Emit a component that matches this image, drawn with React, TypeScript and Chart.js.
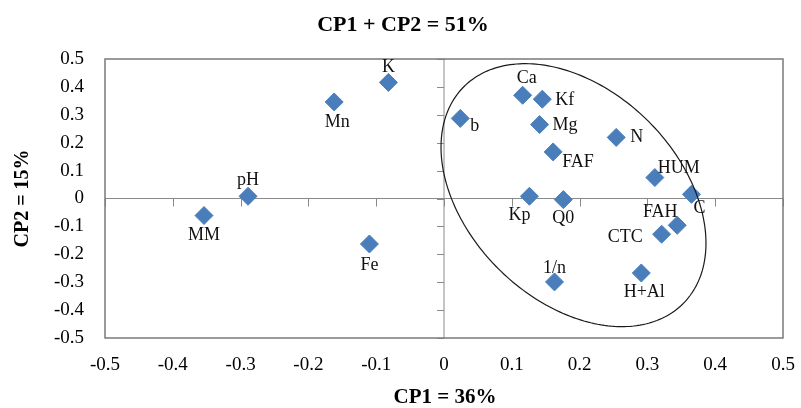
import { useEffect, useRef } from "react";
import { Chart, registerables } from "chart.js";

Chart.register(...registerables);

// Variable loadings on the first two principal components
const variables = ["K", "Mn", "pH", "MM", "Fe", "Ca", "Kf", "b", "Mg", "N", "FAF", "HUM", "C", "Kp", "Q0", "FAH", "CTC", "1/n", "H+Al"];
const cp1 = [-0.082, -0.162, -0.289, -0.354, -0.11, 0.116, 0.145, 0.024, 0.141, 0.254, 0.161, 0.311, 0.365, 0.126, 0.176, 0.344, 0.321, 0.163, 0.291];
const cp2 = [0.416, 0.346, 0.008, -0.061, -0.163, 0.37, 0.356, 0.287, 0.265, 0.219, 0.167, 0.075, 0.015, 0.008, -0.004, -0.096, -0.128, -0.299, -0.267];

// Axis range and tick step
const axisMin = -0.5;
const axisMax = 0.5;
const axisStep = 0.1;

const chartTitle = "CP1 + CP2 = 51%";
const xTitle = "CP1 = 36%";
const yTitle = "CP2 = 15%";

// Grouping ellipse in data units: centre, half extents, and x/y correlation
const ellipseCenter = [0.191, 0.012];
const ellipseHalfExtent = [0.1954, 0.4713];
const ellipseCorrelation = -0.365;

const SERIF = '"Liberation Serif", "Times New Roman", serif';
const MARKER = "#4a7ebb";

// Label anchoring per variable: [dx, dy, align]
const labelPlacement: Record<string, [number, number, CanvasTextAlign]> = {
  K: [0, -15, "center"],
  Mn: [3, 20, "center"],
  pH: [0, -16, "center"],
  MM: [0, 20, "center"],
  Fe: [0, 21, "center"],
  Ca: [4, -17, "center"],
  Kf: [13, 1, "left"],
  b: [10, 8, "left"],
  Mg: [13, 1, "left"],
  N: [14, 0, "left"],
  FAF: [9, 10, "left"],
  HUM: [3, -9, "left"],
  C: [2, 14, "left"],
  Kp: [-10, 19, "center"],
  Q0: [0, 19, "center"],
  FAH: [-17, -13, "center"],
  CTC: [-19, 3, "right"],
  "1/n": [0, -14, "center"],
  "H+Al": [3, 19, "center"],
};

const fmt = (v: number) => {
  const r = Math.round(v * 10) / 10;
  return r === 0 ? "0" : String(r);
};

const framePlugin = {
  id: "frame",
  beforeDatasetsDraw(chart: any) {
    const { ctx, chartArea: a, scales } = chart;
    const xs = scales.x;
    const ys = scales.y;
    const x0 = xs.getPixelForValue(0);
    const y0 = ys.getPixelForValue(0);
    ctx.save();
    // zero axes
    ctx.strokeStyle = "#8a8a8a";
    ctx.lineWidth = 1;
    ctx.beginPath();
    ctx.moveTo(a.left, y0);
    ctx.lineTo(a.right, y0);
    ctx.moveTo(x0, a.top);
    ctx.lineTo(x0, a.bottom);
    // tick marks on the zero axes
    for (let v = axisMin; v <= axisMax + 1e-9; v += axisStep) {
      const px = Math.round(xs.getPixelForValue(v)) + 0.5;
      ctx.moveTo(px, y0);
      ctx.lineTo(px, y0 + 8);
      const py = Math.round(ys.getPixelForValue(v)) + 0.5;
      ctx.moveTo(x0 - 7, py);
      ctx.lineTo(x0, py);
    }
    ctx.stroke();
    // plot frame
    ctx.strokeStyle = "#7a7a7a";
    ctx.lineWidth = 1.5;
    ctx.strokeRect(a.left, a.top, a.right - a.left, a.bottom - a.top);
    ctx.restore();
  },
  afterDatasetsDraw(chart: any) {
    const { ctx, chartArea: a, scales } = chart;
    const xs = scales.x;
    const ys = scales.y;
    ctx.save();
    // grouping ellipse
    const [cx, cy] = ellipseCenter;
    const [sx, sy] = ellipseHalfExtent;
    const r = ellipseCorrelation;
    const q = Math.sqrt(1 - r * r);
    ctx.strokeStyle = "#1a1a1a";
    ctx.lineWidth = 1.2;
    ctx.beginPath();
    for (let i = 0; i <= 240; i++) {
      const t = (i / 240) * Math.PI * 2;
      const vx = cx + sx * Math.cos(t);
      const vy = cy + sy * (r * Math.cos(t) + q * Math.sin(t));
      const px = xs.getPixelForValue(vx);
      const py = ys.getPixelForValue(vy);
      if (i === 0) ctx.moveTo(px, py);
      else ctx.lineTo(px, py);
    }
    ctx.closePath();
    ctx.stroke();

    // point labels
    ctx.fillStyle = "#111";
    ctx.font = `18px ${SERIF}`;
    ctx.textBaseline = "middle";
    variables.forEach((name, i) => {
      const [dx, dy, align] = labelPlacement[name] || [0, -15, "center"];
      ctx.textAlign = align;
      ctx.fillText(name, xs.getPixelForValue(cp1[i]) + dx, ys.getPixelForValue(cp2[i]) + dy);
    });

    // titles
    ctx.fillStyle = "#000";
    ctx.textAlign = "center";
    ctx.font = `bold 22px ${SERIF}`;
    ctx.fillText(chartTitle, 403, 25);
    ctx.font = `bold 21px ${SERIF}`;
    ctx.fillText(xTitle, (a.left + a.right) / 2 + 1, 398);
    ctx.save();
    ctx.translate(23, (a.top + a.bottom) / 2);
    ctx.rotate(-Math.PI / 2);
    ctx.font = `bold 20px ${SERIF}`;
    ctx.fillText(yTitle, 0, 0);
    ctx.restore();
    ctx.restore();
  },
};

export default function App() {
  const canvasRef = useRef<HTMLCanvasElement | null>(null);

  useEffect(() => {
    const canvas = canvasRef.current;
    if (!canvas) return;
    const tickFont = { family: SERIF, size: 19 };
    const chart = new Chart(canvas, {
      type: "scatter",
      data: {
        datasets: [
          {
            data: variables.map((_, i) => ({ x: cp1[i], y: cp2[i] })),
            pointStyle: "rectRot",
            pointRadius: 9,
            pointHoverRadius: 9,
            backgroundColor: MARKER,
            borderColor: MARKER,
            borderWidth: 1,
          },
        ],
      },
      options: {
        responsive: false,
        animation: false,
        events: [],
        layout: { padding: { top: 59, right: 18, left: 0, bottom: 0 } },
        plugins: { legend: { display: false }, tooltip: { enabled: false }, title: { display: false } },
        scales: {
          x: {
            type: "linear",
            min: axisMin,
            max: axisMax,
            ticks: { stepSize: axisStep, callback: (v: any) => fmt(Number(v)), font: tickFont, color: "#000", padding: 16, maxRotation: 0, autoSkip: false },
            grid: { display: false, drawTicks: false },
            border: { display: false },
            afterFit: (s: any) => {
              s.height = 70;
              s.paddingLeft = 0;
              s.paddingRight = 0;
            },
          },
          y: {
            type: "linear",
            min: axisMin,
            max: axisMax,
            ticks: { stepSize: axisStep, callback: (v: any) => fmt(Number(v)), font: tickFont, color: "#000", padding: 21, autoSkip: false },
            grid: { display: false, drawTicks: false },
            border: { display: false },
            afterFit: (s: any) => {
              s.width = 105;
              s.paddingTop = 0;
              s.paddingBottom = 0;
            },
          },
        },
      },
      plugins: [framePlugin],
    } as any);
    return () => chart.destroy();
  }, []);

  return (
    <div style={{ position: "absolute", left: 0, top: 0, width: 801, height: 408, background: "#fff" }}>
      <canvas ref={canvasRef} width={801} height={408} />
    </div>
  );
}
